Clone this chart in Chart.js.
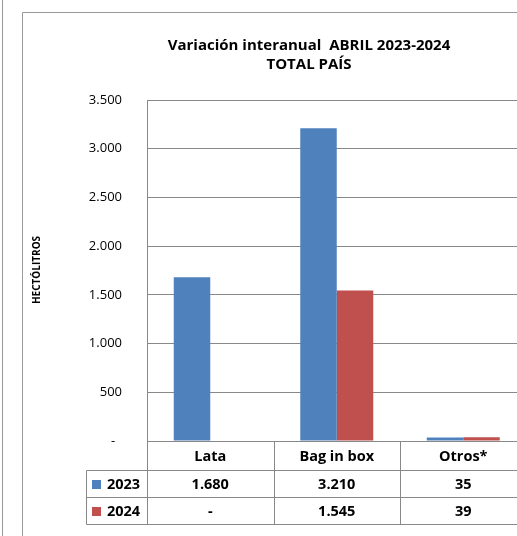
<!DOCTYPE html>
<html>
<head>
<meta charset="utf-8">
<script src="https://cdn.jsdelivr.net/npm/chart.js@4/dist/chart.umd.min.js"></script>
<style>
html,body{margin:0;padding:0;background:#fff;overflow:hidden;width:517px;height:536px;}
canvas{display:block;}
</style>
</head>
<body>
<canvas id="c" width="530" height="536"></canvas>
<script>
const categories = ['Lata', 'Bag in box', 'Otros*'];
const seriesNames = ['2023', '2024'];
const values2023 = [1680, 3210, 35];
const values2024 = [0, 1545, 39];
const tableText2023 = ['1.680', '3.210', '35'];
const tableText2024 = ['-', '1.545', '39'];
const yTickLabels = ['-  ', '500', '1.000', '1.500', '2.000', '2.500', '3.000', '3.500'];
const titleLines = ['Variación interanual  ABRIL 2023-2024', 'TOTAL PAÍS'];
const yAxisTitle = 'HECTÓLITROS';

const BLUE = '#4F81BD', RED = '#C0504D', LINE = '#888888';
const FONT = '"Open Sans", sans-serif';

const framePlugin = {
  id: 'frame',
  beforeDraw(chart) {
    const c = chart.ctx;
    c.save();
    c.strokeStyle = '#999999';
    c.lineWidth = 1;
    c.beginPath();
    c.moveTo(2.5, 0); c.lineTo(2.5, 536);
    c.moveTo(22.5, 536); c.lineTo(22.5, 12.5); c.lineTo(530, 12.5);
    c.stroke();
    c.restore();
  },
  afterDraw(chart) {
    const c = chart.ctx;
    const xs = chart.scales.x;
    const area = chart.chartArea;
    const half = (xs.getPixelForValue(1) - xs.getPixelForValue(0)) / 2;
    const yTop = Math.round(area.bottom) + 0.5;
    const r1 = yTop + 29, r2 = r1 + 27, r3 = r2 + 27;
    const legLeft = 86.5;
    const left = Math.round(area.left) + 0.5;
    const right = area.right;
    c.save();
    // title
    c.fillStyle = '#000';
    c.textAlign = 'center';
    c.textBaseline = 'middle';
    c.font = 'bold 15px ' + FONT;
    c.fillText(titleLines[0], 309, 46);
    c.fillText(titleLines[1], 309, 65);
    // y axis title
    c.save();
    c.translate(37, 270);
    c.rotate(-Math.PI / 2);
    c.font = 'bold 10px ' + FONT;
    c.fillText(yAxisTitle, 0, 0);
    c.restore();
    // table lines
    c.strokeStyle = LINE;
    c.lineWidth = 1;
    c.beginPath();
    [r1, r2, r3].forEach(y => { c.moveTo(legLeft, y); c.lineTo(right, y); });
    c.moveTo(legLeft, r1); c.lineTo(legLeft, r3);
    c.moveTo(left, yTop); c.lineTo(left, r3);
    for (let i = 0; i < categories.length; i++) {
      const bx = Math.round(xs.getPixelForValue(i) + half) + 0.5;
      c.moveTo(bx, yTop); c.lineTo(bx, r3);
    }
    c.stroke();
    // text
    c.font = 'bold 14.5px ' + FONT;
    c.fillStyle = '#000';
    c.textAlign = 'center';
    categories.forEach((cat, i) => {
      const cx = xs.getPixelForValue(i);
      c.fillText(cat, cx, (yTop + r1) / 2 + 1);
      c.fillText(tableText2023[i], cx, (r1 + r2) / 2 + 1);
      c.fillText(tableText2024[i], cx, (r2 + r3) / 2 + 1);
    });
    // legend keys
    const rows = [[r1, r2, BLUE, seriesNames[0]], [r2, r3, RED, seriesNames[1]]];
    rows.forEach(([a, b, col, name]) => {
      const my = (a + b) / 2;
      c.fillStyle = col;
      c.fillRect(92, Math.round(my - 4.5), 9, 9);
      c.fillStyle = '#000';
      c.textAlign = 'left';
      c.fillText(name, 107, my + 1);
    });
    c.restore();
  }
};

new Chart(document.getElementById('c'), {
  type: 'bar',
  data: {
    labels: categories,
    datasets: [
      { label: seriesNames[0], data: values2023, backgroundColor: BLUE, borderWidth: 0 },
      { label: seriesNames[1], data: values2024, backgroundColor: RED, borderWidth: 0 }
    ]
  },
  options: {
    responsive: false,
    devicePixelRatio: 1,
    animation: false,
    layout: { padding: { left: 0, top: 100, right: 3.5, bottom: 95 } },
    datasets: { bar: { barPercentage: 1, categoryPercentage: 0.577 } },
    plugins: { legend: { display: false }, title: { display: false }, tooltip: { enabled: false } },
    scales: {
      x: { display: false },
      y: {
        min: 0, max: 3500,
        afterFit(s) { s.width = 147; },
        ticks: {
          stepSize: 500,
          padding: 25,
          color: '#000',
          font: { family: FONT, size: 13 },
          callback: (v, i) => yTickLabels[i]
        },
        grid: { color: LINE, drawTicks: false, lineWidth: 1 },
        border: { display: true, color: LINE }
      }
    }
  },
  plugins: [framePlugin]
});
</script>
</body>
</html>
